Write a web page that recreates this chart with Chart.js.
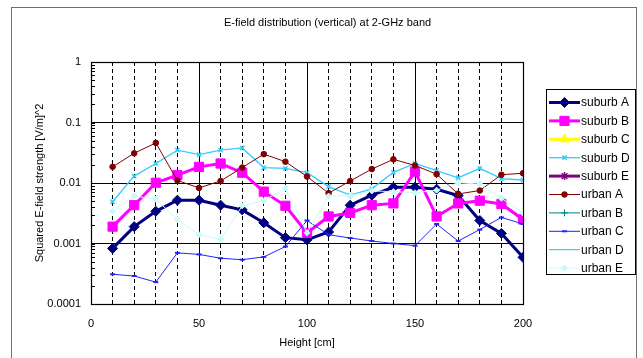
<!DOCTYPE html>
<html><head><meta charset="utf-8">
<script src="https://cdn.jsdelivr.net/npm/chart.js@4/dist/chart.umd.min.js"></script>
<style>html,body{margin:0;padding:0;background:#fff;}canvas{display:block;}</style>
</head><body>
<canvas id="c" width="643" height="358"></canvas>
<script>
// ---- data ----
const heights = [10,20,30,40,50,60,70,80,90,100,110,120,130,140,150,160,170,180,190,200];
const suburbA = [0.00083,0.0019,0.0034,0.0052,0.0052,0.0043,0.0036,0.0022,0.00125,0.00115,0.00155,0.0043,0.0063,0.0085,0.0085,0.0079,0.0062,0.0024,0.00147,0.00059];
const suburbB = [0.0019,0.0043,0.0101,0.0135,0.0185,0.021,0.0148,0.0072,0.0042,0.0015,0.0028,0.0032,0.0043,0.0046,0.0154,0.0028,0.0046,0.0051,0.0045,0.0025];
const suburbC = [];
const suburbD = [0.0049,0.013,0.021,0.035,0.0295,0.035,0.038,0.018,0.0175,0.0148,0.0087,0.0063,0.008,0.015,0.021,0.016,0.0122,0.0175,0.0118,0.0112];
const suburbE = [];
const urbanA = [0.0185,0.031,0.046,0.011,0.0083,0.0108,0.018,0.030,0.0225,0.0128,0.0068,0.0108,0.017,0.0246,0.0195,0.014,0.0066,0.0075,0.0137,0.0145];
const urbanB = [];
const urbanC = [0.00031,0.00029,0.00023,0.0007,0.00066,0.00057,0.00054,0.0006,0.00089,0.0024,0.0014,0.00123,0.0011,0.001,0.00092,0.0021,0.0011,0.0017,0.0027,0.0021];
const urbanD = [];
const urbanE = [0.0034,0.0061,0.0054,0.0025,0.0014,0.00117,0.0042,0.0051,0.0082,0.0015,0.0061,0.0062,0.0074,0.0072,0.0069,0.0076,0.0101,0.0096,0.0056,0.0032];
const seriesNames = ['suburb A','suburb B','suburb C','suburb D','suburb E','urban A','urban B','urban C','urban D','urban E'];
const seriesValues = [suburbA,suburbB,suburbC,suburbD,suburbE,urbanA,urbanB,urbanC,urbanD,urbanE];
const xTickLabels = ['0','50','100','150','200'];
const yTickLabels = ['0.0001','0.001','0.01','0.1','1'];
const chartTitle = 'E-field distribution (vertical) at 2-GHz band';
const xTitle = 'Height [cm]';
const yTitle = 'Squared E-field strength [V/m]^2';

// ---- styles ----
const styles = [
  {color:'#000080', width:3, point:'rectRot', r:5, pbw:1},
  {color:'#FF00FF', width:3, point:'rect', r:6.5, pbw:1},
  {color:'#FFFF00', width:3, point:'triangle', r:5, pbw:1},
  {color:'#33CCFF', width:1.3, point:'crossRot', r:3, pbw:1.5},
  {color:'#800080', width:3, point:'star', r:4, pbw:1.5},
  {color:'#800000', width:1, point:'circle', r:2.8, pbw:1},
  {color:'#008080', width:1, point:'cross', r:3.5, pbw:1},
  {color:'#2222FF', width:1, point:'line', r:2.5, pbw:2},
  {color:'#00CCFF', width:1, point:'circle', r:0, pbw:1},
  {color:'#C8FAFA', width:1, point:'rectRot', r:3, pbw:1}
];

Chart.defaults.font.family = '"Liberation Sans", Arial, sans-serif';
Chart.defaults.font.size = 11;
Chart.defaults.color = '#000';

const datasets = seriesNames.map((name,i)=>({
  label: name,
  data: seriesValues[i].map((v,j)=>({x: heights[j], y: v})),
  yAxisID: 'y',
  borderColor: styles[i].color,
  backgroundColor: styles[i].color,
  borderWidth: styles[i].width,
  pointStyle: styles[i].point,
  pointRadius: styles[i].r,
  pointBackgroundColor: styles[i].color,
  pointBorderColor: styles[i].color,
  pointBorderWidth: styles[i].pbw,
  tension: 0,
  fill: false,
  order: -i
}));

function isDecade(v){ const l = Math.log10(v); return Math.abs(l - Math.round(l)) < 1e-6; }

const decor = {
  id: 'decor',
  beforeDatasetsDraw(chart){
    const {ctx, chartArea:a} = chart;
    const ys = chart.scales.y;
    ctx.save();
    ctx.strokeStyle = '#000'; ctx.lineWidth = 1;
    ctx.beginPath();
    for (let e = -4; e < 0; e++) {
      for (let k = 1; k <= 9; k++) {
        const y = Math.round(ys.getPixelForValue(k * Math.pow(10, e))) + 0.5;
        ctx.moveTo(a.left, y); ctx.lineTo(a.left + 4, y);
      }
    }
    ctx.stroke();
    ctx.lineWidth = 1.2;
    ctx.strokeRect(Math.round(a.left)+0.5, Math.round(a.top)+0.5, Math.round(a.right-a.left), Math.round(a.bottom-a.top));
    ctx.restore();
  },
  afterDraw(chart){
    const ctx = chart.ctx;
    ctx.save();
    ctx.strokeStyle = '#707070'; ctx.lineWidth = 1;
    ctx.strokeRect(11.5, 7.5, 625, 360);
    const bx = 546.5, by = 89.5, bw = 89, bh = 185;
    ctx.fillStyle = '#fff'; ctx.fillRect(bx, by, bw, bh);
    ctx.strokeStyle = '#000'; ctx.lineWidth = 1; ctx.strokeRect(bx, by, bw, bh);
    chart.data.datasets.forEach((ds,i)=>{
      const y = by + 13 + i * 18.4;
      ctx.strokeStyle = ds.borderColor; ctx.lineWidth = ds.borderWidth;
      ctx.beginPath(); ctx.moveTo(549, y); ctx.lineTo(580, y); ctx.stroke();
      if (ds.pointRadius > 0 && Chart.helpers && Chart.helpers.drawPoint) {
        ctx.fillStyle = ds.pointBackgroundColor; ctx.strokeStyle = ds.pointBorderColor; ctx.lineWidth = ds.pointBorderWidth;
        Chart.helpers.drawPoint(ctx, {pointStyle: ds.pointStyle, radius: ds.pointRadius, rotation: 0, borderWidth: ds.pointBorderWidth}, 564.5, y);
      }
      ctx.fillStyle = '#000'; ctx.font = '12px "Liberation Sans", Arial, sans-serif';
      ctx.textBaseline = 'middle'; ctx.textAlign = 'left';
      ctx.fillText(ds.label, 581, y + 0.5);
    });
    ctx.restore();
  }
};

new Chart(document.getElementById('c'), {
  type: 'line',
  data: { datasets },
  plugins: [decor],
  options: {
    responsive: false,
    animation: false,
    devicePixelRatio: 1,
    layout: { padding: {left: 12, right: 0, top: 0, bottom: 4} },
    plugins: {
      legend: { display: false },
      tooltip: { enabled: false },
      title: { display: true, text: chartTitle, color: '#000', font: {size: 11, weight: 'normal'}, padding: {top: 16, bottom: 32.8} }
    },
    scales: {
      x: {
        type: 'linear', min: 0, max: 200,
        afterFit(s){ s.height = 50; },
        ticks: { stepSize: 10, autoSkip: false, maxRotation: 0, padding: 13, color: '#000',
          callback: v => (v % 50 === 0) ? xTickLabels[v / 50] : '' },
        grid: { drawTicks: false, lineWidth: 1,
          color: c => (c.tick && c.tick.value > 0 && c.tick.value < 200) ? '#000' : 'rgba(0,0,0,0)' },
        border: { display: false, dash: c => (c.tick && c.tick.value % 50 !== 0) ? [4,3] : [] },
        title: { display: true, text: xTitle, color: '#000', font: {size: 11}, padding: {top: 4, bottom: 4.4} }
      },
      y: {
        type: 'logarithmic', min: 0.0001, max: 1, position: 'left',
        afterFit(s){ s.width = 79; },
        ticks: { autoSkip: false, padding: 10, color: '#000',
          callback: v => isDecade(v) ? yTickLabels[Math.round(Math.log10(v)) + 4] : '' },
        grid: { drawTicks: false, lineWidth: 1,
          color: c => (c.tick && isDecade(c.tick.value) && c.tick.value > 0.00011 && c.tick.value < 0.99) ? '#000' : 'rgba(0,0,0,0)' },
        border: { display: false },
        title: { display: true, text: yTitle, color: '#000', font: {size: 11}, padding: {top: 21.4, bottom: 0} }
      },
      yRight: {
        type: 'linear', position: 'right', display: true,
        afterFit(s){ s.width = 120; },
        ticks: { display: false }, grid: { display: false }, border: { display: false }
      }
    }
  }
});
</script>
</body></html>
